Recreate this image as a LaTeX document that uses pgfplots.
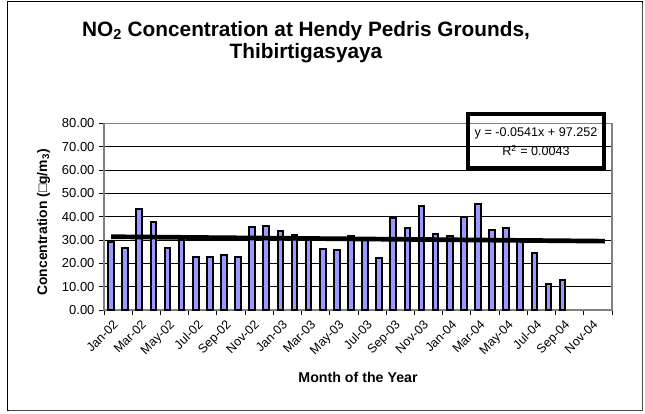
\documentclass[border=0pt]{standalone}
\usepackage{pgfplots}
\pgfplotsset{compat=1.18}
\usepackage{fontspec}
\setmainfont{Liberation Sans}
\definecolor{barfill}{HTML}{9999FF}
\definecolor{frame}{HTML}{808080}
\begin{document}
\begin{tikzpicture}[x=1pt,y=1pt]
\path[use as bounding box] (0,0) rectangle (645,413);
\draw[black, line width=1pt] (7.5,3) rectangle (642,411);
\draw[black!70, line width=0.8pt] (8.5,2.2) -- (642.8,2.2) -- (642.8,410);
\begin{axis}[
  at={(104pt,103pt)}, anchor=south west,
  scale only axis, width=508pt, height=186.7pt,
  xmin=-0.5, xmax=35.5, ymin=0, ymax=80,
  clip=false,
  axis line style={frame, line width=1.4pt},
  ytick={0,10,...,80},
  yticklabel style={/pgf/number format/.cd, fixed, fixed zerofill, precision=2, /tikz/.cd, font=\fontsize{13}{13}\selectfont, xshift=-1pt},
  /pgf/number format/assume math mode=true,
  ymajorgrids, major grid style={black, line width=0.8pt},
  tick align=outside, major tick length=5pt, minor tick length=5pt,
  tick style={black, line width=0.8pt},
  xtick={0,2,...,34},
  xticklabels={Jan-02,Mar-02,May-02,Jul-02,Sep-02,Nov-02,Jan-03,Mar-03,May-03,Jul-03,Sep-03,Nov-03,Jan-04,Mar-04,May-04,Jul-04,Sep-04,Nov-04},
  major x tick style={draw=none},
  minor xtick={-0.5,1.5,...,35.5},
  xticklabel style={rotate=45, anchor=north east, inner sep=1pt, font=\fontsize{12.5}{12.5}\selectfont, xshift=-1pt, yshift=-3pt},
  ytick pos=left, xtick pos=bottom,
]
\addplot[ybar, bar width=5.6pt, bar shift=0pt, fill=barfill, draw=black, line width=2pt] coordinates {
(0,29.2) (1,26.7) (2,43.4) (3,37.7) (4,26.4) (5,30.0) (6,22.8) (7,22.7) (8,23.5) (9,22.8)
(10,35.5) (11,36.1) (12,33.8) (13,32.2) (14,30.2) (15,26.1) (16,25.6) (17,31.8) (18,29.9) (19,22.1)
(20,39.5) (21,35.3) (22,44.7) (23,32.7) (24,31.5) (25,40.0) (26,45.4) (27,34.2) (28,35.0) (29,29.7)
(30,24.5) (31,11.1) (32,12.9)
};
\addplot[black, line width=4.7pt] coordinates {(0,31.4) (35,29.5)};
\end{axis}
\node[anchor=base, font=\bfseries\fontsize{20.8}{20.8}\selectfont] at (306,376.5) {NO\textsubscript{2} Concentration at Hendy Pedris Grounds,};
\node[anchor=base, font=\bfseries\fontsize{20.8}{20.8}\selectfont] at (306,354.5) {Thibirtigasyaya};
\node[anchor=base, rotate=90, font=\bfseries\fontsize{13.9}{13.9}\selectfont] at (47,190.5) {Concentration (□g/m\textsubscript{3})};
\node[anchor=base, font=\bfseries\fontsize{14.2}{14.2}\selectfont] at (358,31) {Month of the Year};
\draw[black, line width=4pt] (467.7,244.7) rectangle (604.3,299);
\node[anchor=base, font=\fontsize{12.6}{12.6}\selectfont] at (536,276.8) {y = -0.0541x + 97.252};
\node[anchor=base, font=\fontsize{12.6}{12.6}\selectfont] at (536,257) {R\textsuperscript{2} = 0.0043};
\end{tikzpicture}
\end{document}
